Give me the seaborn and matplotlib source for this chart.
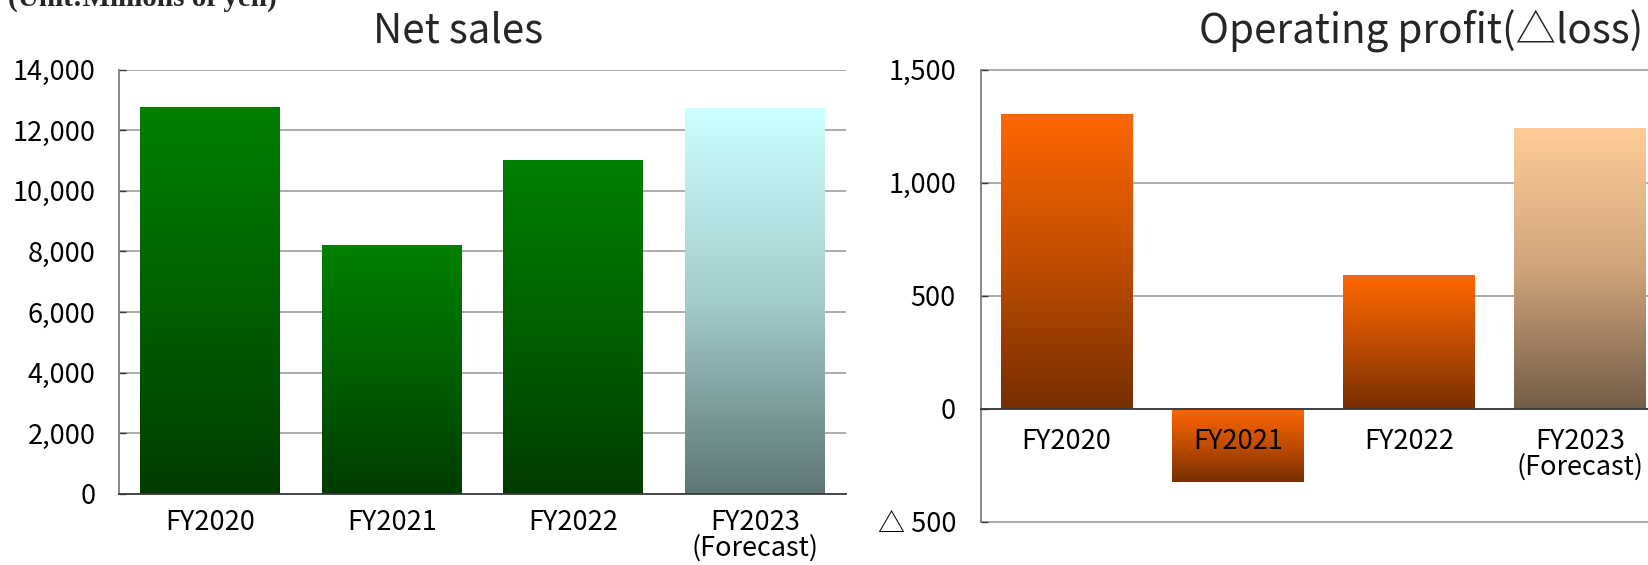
import numpy as np
import pandas as pd
import matplotlib
matplotlib.use("Agg")
import matplotlib.pyplot as plt
import seaborn as sns
from matplotlib.colors import LinearSegmentedColormap
from matplotlib.ticker import FixedLocator

# ---------------- data ----------------
categories = ["FY2020", "FY2021", "FY2022", "FY2023\n(Forecast)"]
net_sales = [12750, 8200, 11000, 12700]
operating_profit = [1300, -325, 590, 1240]

sales_ticks = [0, 2000, 4000, 6000, 8000, 10000, 12000, 14000]
sales_tick_labels = ["0", "2,000", "4,000", "6,000", "8,000", "10,000", "12,000", "14,000"]
profit_ticks = [-500, 0, 500, 1000, 1500]
profit_tick_labels = ["△ 500", "0", "500", "1,000", "1,500"]

title_sales = "Net sales"
title_profit = "Operating profit(△loss)"
unit_text = "(Unit:Millions of yen)"

# gradient stops per bar: bottom -> top
green_stops = ["#003c00", "#006000", "#008000"]
cyan_stops = ["#5e7575", "#a3cccc", "#ccffff"]
orange_stops = ["#772e00", "#c04d00", "#ff6600"]
peach_stops = ["#735d47", "#cfa47b", "#ffcc99"]

sales_colors = [green_stops, green_stops, green_stops, cyan_stops]
profit_colors = [orange_stops, orange_stops, orange_stops, peach_stops]

# ---------------- style ----------------
sns.set_theme(style="white")
plt.rcParams['font.family'] = ['Noto Sans CJK JP', 'DejaVu Sans']

W, H = 1648, 565
fig = plt.figure(figsize=(W / 100, H / 100), dpi=100)

def px_axes(left, right, top, bottom):
    return [left / W, 1 - bottom / H, (right - left) / W, (bottom - top) / H]

ax1 = fig.add_axes(px_axes(119, 846, 69.5, 494))
ax2 = fig.add_axes(px_axes(981, 1666, 69.5, 522))

df1 = pd.DataFrame({"cat": categories, "val": net_sales})
df2 = pd.DataFrame({"cat": categories, "val": operating_profit})
sns.barplot(data=df1, x="cat", y="val", ax=ax1, width=0.77, color="#008000",
            saturation=1, errorbar=None)
sns.barplot(data=df2, x="cat", y="val", ax=ax2, width=0.77, color="#ff6600",
            saturation=1, errorbar=None)


def gradient_bars(ax, stops_list):
    grad = np.linspace(0, 1, 256).reshape(-1, 1)
    for patch, stops in zip(list(ax.patches), stops_list):
        x0, w = patch.get_x(), patch.get_width()
        y0, h = patch.get_y(), patch.get_height()
        ylo, yhi = min(y0, y0 + h), max(y0, y0 + h)
        cmap = LinearSegmentedColormap.from_list("g", stops)
        ax.imshow(grad, cmap=cmap, extent=[x0, x0 + w, ylo, yhi], origin="lower",
                  aspect="auto", zorder=1, interpolation="bilinear")
        patch.set_visible(False)


gradient_bars(ax1, sales_colors)
gradient_bars(ax2, profit_colors)

grid_color = "#a6a6a6"
spine_color = "#7f7f7f"
axis_color = "#3a3a3a"
ytick_fs = 19.5
xtick_fs = 19.5

ax2.spines["bottom"].set_position(("data", 0))

for ax in (ax1, ax2):
    ax.set_xlim(-0.5, 3.5)
    ax.set_xlabel("")
    ax.set_ylabel("")
    ax.set_axisbelow(True)
    ax.yaxis.grid(True, color=grid_color, linewidth=1.3)
    ax.xaxis.grid(False)
    for s in ("top", "right"):
        ax.spines[s].set_visible(False)
    ax.spines["left"].set_color(spine_color)
    ax.spines["left"].set_linewidth(1.3)
    ax.spines["bottom"].set_color(axis_color)
    ax.spines["bottom"].set_linewidth(1.3)
    ax.spines["bottom"].set_zorder(3)
    ax.set_xticks(range(len(categories)))
    ax.set_xticklabels(categories, linespacing=0.9)
    ax.xaxis.set_minor_locator(FixedLocator([0.5, 1.5, 2.5, 3.5]))
    ax.tick_params(axis="x", which="major", length=0, labelcolor="black",
                   labelsize=xtick_fs)
    ax.tick_params(axis="x", which="minor", direction="in", length=5, width=1,
                   color=spine_color)
    ax.tick_params(axis="y", direction="in", length=5, width=1, color=axis_color,
                   labelsize=ytick_fs, labelcolor="black", left=True)
    ax.xaxis.set_zorder(3)
    ax.patch.set_alpha(0)

ax1.set_ylim(0, 14000)
ax1.set_yticks(sales_ticks)
ax1.set_yticklabels(sales_tick_labels)
ax1.tick_params(axis="y", pad=17)
ax1.tick_params(axis="x", which="major", pad=11)

ax2.set_ylim(-500, 1500)
ax2.set_yticks(profit_ticks)
ax2.set_yticklabels(profit_tick_labels)
ax2.tick_params(axis="y", pad=18)
ax2.tick_params(axis="x", which="major", pad=14)
for gl in ax2.yaxis.get_gridlines():
    gl.set_clip_on(False)

fig.text(458 / W, 1 - 31 / H, title_sales, ha="center", va="center", fontsize=29)
fig.text(1643 / W, 1 - 31 / H, title_profit, ha="right", va="center", fontsize=29)
fig.text(8 / W, 1 - 6 / H, unit_text, ha="left", va="baseline", fontsize=21,
         fontweight="bold", family=["Liberation Serif", "DejaVu Serif"])

fig.savefig("out.png", dpi=100)
